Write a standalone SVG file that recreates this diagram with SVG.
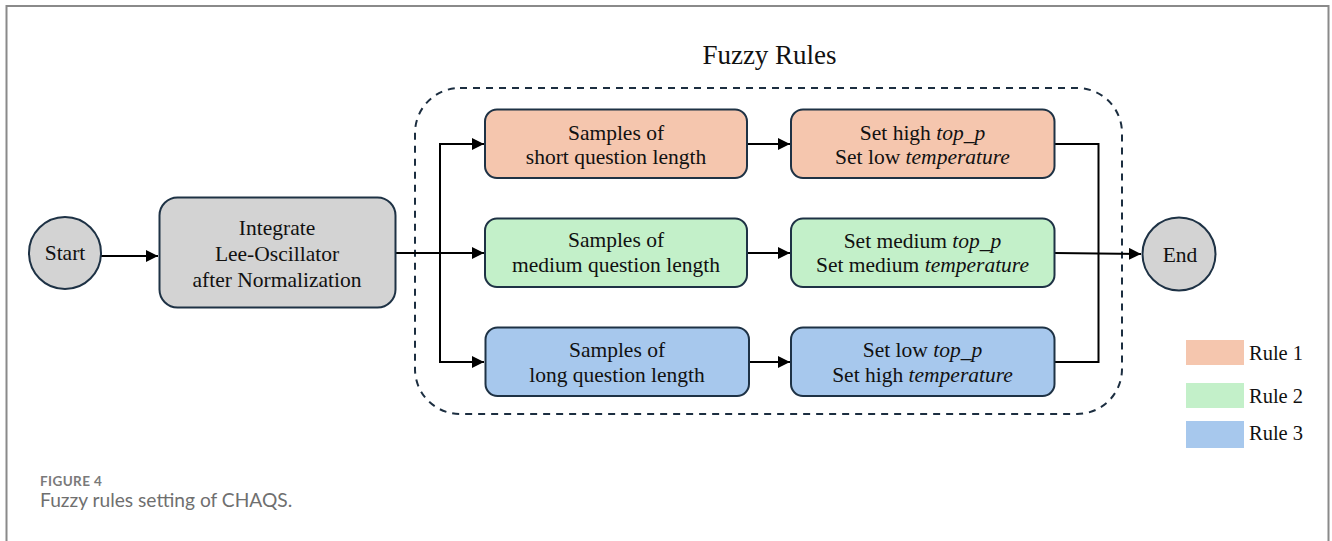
<svg xmlns="http://www.w3.org/2000/svg" width="1332" height="541" viewBox="0 0 1332 541">
  <style>
    .serif { font-family: "Liberation Serif", "Times New Roman", serif; font-size: 21.5px; fill: #111; }
    .ttl { font-family: "Liberation Serif", "Times New Roman", serif; font-size: 27px; fill: #111; }
    .leg { font-family: "Liberation Serif", "Times New Roman", serif; font-size: 20.5px; fill: #111; }
    .box { stroke: #1e3245; stroke-width: 2; }
    .gray { fill: #d3d3d3; }
    .r1 { fill: #f5c6ae; }
    .r2 { fill: #c3f0c9; }
    .r3 { fill: #a7c8ed; }
    .wire { fill: none; stroke: #000; stroke-width: 2; }
    .cap1 { font-family: Lato, "Open Sans", sans-serif; font-size: 13.5px; font-weight: 700; fill: #7a7a7a; letter-spacing: 0.4px; }
    .cap2 { font-family: Lato, "Open Sans", sans-serif; font-size: 19.2px; fill: #6f6f6f; }
  </style>
  <defs>
    <marker id="arrow" viewBox="0 0 10 10" refX="10" refY="5" markerWidth="6" markerHeight="6" markerUnits="strokeWidth" orient="auto">
      <path d="M0,0 L10,5 L0,10 z" fill="#000"/>
    </marker>
  </defs>

  <!-- page frame (open at the bottom) -->
  <rect x="0" y="0" width="1332" height="541" fill="#fff"/>
  <path d="M6.5,541 V6 H1328.5 V541" fill="none" stroke="#8a8a8a" stroke-width="2"/>

  <!-- fuzzy rules container -->
  <g id="fuzzy-rules">
    <rect x="415" y="88" width="707" height="326" rx="45" ry="45" fill="none" stroke="#1c2e40" stroke-width="2" stroke-dasharray="7 6"/>
    <text class="ttl" x="769.5" y="64" text-anchor="middle">Fuzzy Rules</text>
  </g>

  <!-- connectors -->
  <g id="connectors">
    <line class="wire" x1="101" y1="256" x2="158" y2="256" marker-end="url(#arrow)"/>
    <line class="wire" x1="396" y1="253" x2="484" y2="253" marker-end="url(#arrow)"/>
    <path class="wire" d="M484,144 H440 V362 H484" marker-end="url(#arrow)"/>
    <line class="wire" x1="440" y1="144" x2="484" y2="144" marker-end="url(#arrow)"/>
    <line class="wire" x1="747" y1="144" x2="790" y2="144" marker-end="url(#arrow)"/>
    <line class="wire" x1="747" y1="253" x2="790" y2="253" marker-end="url(#arrow)"/>
    <line class="wire" x1="749" y1="362" x2="790" y2="362" marker-end="url(#arrow)"/>
    <path class="wire" d="M1055,144 H1098.5 V362 H1054"/>
    <line class="wire" x1="1055" y1="253" x2="1141" y2="254" marker-end="url(#arrow)"/>
  </g>

  <g id="start">
    <circle class="box gray" cx="65" cy="253" r="36"/>
    <text class="serif" x="65" y="260" text-anchor="middle">Start</text>
  </g>

  <g id="integrate">
    <rect class="box gray" x="159.5" y="197.5" width="236" height="110" rx="18"/>
    <text class="serif" x="277" y="235" text-anchor="middle">Integrate</text>
    <text class="serif" x="277" y="261" text-anchor="middle">Lee-Oscillator</text>
    <text class="serif" x="277" y="287" text-anchor="middle">after Normalization</text>
  </g>

  <g id="short-samples">
    <rect class="box r1" x="485" y="109.5" width="262" height="68.5" rx="12"/>
    <text class="serif" x="616" y="139.5" text-anchor="middle">Samples of</text>
    <text class="serif" x="616" y="163.5" text-anchor="middle">short question length</text>
  </g>

  <g id="short-setting">
    <rect class="box r1" x="791" y="109.5" width="263.5" height="68.5" rx="12"/>
    <text class="serif" x="922.5" y="139.5" text-anchor="middle">Set high <tspan font-style="italic">top_p</tspan></text>
    <text class="serif" x="922.5" y="163.5" text-anchor="middle">Set low <tspan font-style="italic">temperature</tspan></text>
  </g>

  <g id="medium-samples">
    <rect class="box r2" x="485" y="218.5" width="262" height="68.5" rx="12"/>
    <text class="serif" x="616" y="247" text-anchor="middle">Samples of</text>
    <text class="serif" x="616" y="272" text-anchor="middle">medium question length</text>
  </g>

  <g id="medium-setting">
    <rect class="box r2" x="791" y="218.5" width="263.5" height="68.5" rx="12"/>
    <text class="serif" x="922.5" y="247.5" text-anchor="middle">Set medium <tspan font-style="italic">top_p</tspan></text>
    <text class="serif" x="922.5" y="272" text-anchor="middle">Set medium <tspan font-style="italic">temperature</tspan></text>
  </g>

  <g id="long-samples">
    <rect class="box r3" x="485.5" y="327.5" width="263.5" height="68.5" rx="12"/>
    <text class="serif" x="617" y="357" text-anchor="middle">Samples of</text>
    <text class="serif" x="617" y="381.5" text-anchor="middle">long question length</text>
  </g>

  <g id="long-setting">
    <rect class="box r3" x="791" y="327.5" width="263.5" height="68.5" rx="12"/>
    <text class="serif" x="922.5" y="357" text-anchor="middle">Set low <tspan font-style="italic">top_p</tspan></text>
    <text class="serif" x="922.5" y="381.5" text-anchor="middle">Set high <tspan font-style="italic">temperature</tspan></text>
  </g>

  <g id="end">
    <circle class="box gray" cx="1179" cy="254" r="36.5"/>
    <text class="serif" x="1180" y="262" text-anchor="middle">End</text>
  </g>

  <g id="legend">
    <rect class="r1" x="1186" y="340" width="58" height="25"/>
    <text class="leg" x="1249" y="360">Rule 1</text>
    <rect class="r2" x="1186" y="383" width="58" height="25"/>
    <text class="leg" x="1249" y="403">Rule 2</text>
    <rect class="r3" x="1186" y="421" width="58" height="27"/>
    <text class="leg" x="1249" y="440">Rule 3</text>
  </g>

  <g id="caption">
    <text class="cap1" x="40" y="486">FIGURE 4</text>
    <text class="cap2" x="40" y="507">Fuzzy rules setting of CHAQS.</text>
  </g>
</svg>
